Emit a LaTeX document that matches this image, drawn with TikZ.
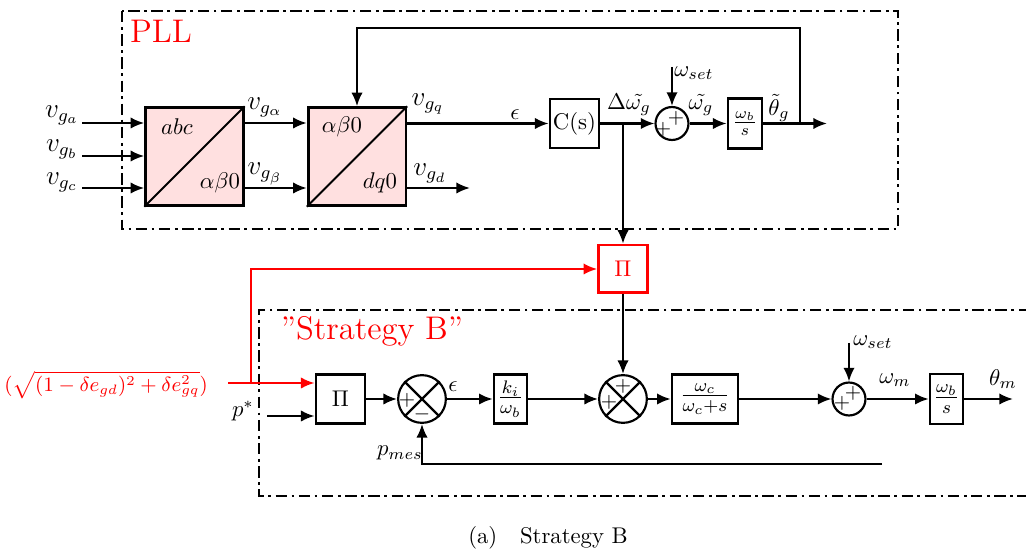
\documentclass[tikz,border=0pt]{standalone}
\usetikzlibrary{arrows.meta}
\definecolor{pinkfill}{RGB}{255,224,224}
\begin{document}
\begin{tikzpicture}[x=0.44pt,y=-0.44pt,
  line width=0.95pt,
  arr/.style={-{Latex[length=6pt,width=5pt]}},
  blk/.style={draw, line width=1.2pt, inner sep=0pt, fill=white},
  conv/.style={draw, line width=1.2pt, fill=pinkfill, minimum width=43pt, minimum height=43pt, inner sep=0pt},
  sumc/.style={draw, circle, line width=0.95pt, inner sep=0pt, minimum size=14.5pt},
  xsum/.style={draw, circle, line width=0.95pt, inner sep=0pt, minimum size=21pt},
  dd/.style={line width=1.1pt, dash pattern=on 5pt off 2pt on 1.2pt off 2pt},
  lbl/.style={inner sep=0pt},
  sgn/.style={inner sep=0pt, font=\small}
]
\useasboundingbox (0,0) rectangle (1026,554);

% frames
\draw[dd] (122,11) rectangle (898,229);
\draw[dd] (1030,310) -- (259,310) -- (259,496) -- (1030,496);
\node[lbl, text=red, font=\Large] (pll) at (161,31) {PLL};
\node[lbl, text=red, font=\Large] (stb) at (372,331) {''Strategy B''};

% ---------- PLL ----------
\node[conv] (t1) at (194.5,156.5) {};
\draw[line width=0.9pt] (t1.south west) -- (t1.north east);
\node[lbl] (t1a) at (177,127) {$abc$};
\node[lbl] (t1b) at (220,183) {$\alpha\beta0$};
\node[conv] (t2) at (357,156.5) {};
\draw[line width=0.9pt] (t2.south west) -- (t2.north east);
\node[lbl] (t2a) at (342,127) {$\alpha\beta0$};
\node[lbl] (t2b) at (380,183) {$dq0$};

\coordinate (ra) at (82,123);
\coordinate (rb) at (82,156);
\coordinate (rc) at (82,188);
\draw[arr] (ra) -- (ra -| t1.west);
\draw[arr] (rb) -- (rb -| t1.west);
\draw[arr] (rc) -- (rc -| t1.west);
\node[lbl, font=\large] (lva) at (62,115) {$v_{g_a}$};
\node[lbl, font=\large] (lvb) at (62,149) {$v_{g_b}$};
\node[lbl, font=\large] (lvc) at (62,182) {$v_{g_c}$};

\draw[arr] (ra -| t1.east) -- (ra -| t2.west);
\draw[arr] (rc -| t1.east) -- (rc -| t2.west);
\node[lbl, font=\large] (lval) at (265,107) {$v_{g_\alpha}$};
\node[lbl, font=\large] (lvbe) at (265,174) {$v_{g_\beta}$};

\node[blk, minimum size=21.6pt] (cs) at (574.5,123.5) {C(s)};
\node[sumc] (s1) at (672,123.5) {};
\node[blk, minimum width=15pt, minimum height=22pt] (ib1) at (745,123.5) {$\frac{\omega_b}{s}$};

\draw[arr] (t2.east |- cs) -- (cs.west);
\node[lbl, font=\large] (lvq) at (428,104) {$v_{g_q}$};
\coordinate (vgd) at (470,188);
\draw[arr] (rc -| t2.east) -- (vgd);
\node[lbl, font=\large] (lvd) at (430,173) {$v_{g_d}$};
\node[lbl] (eps1) at (515,115) {$\epsilon$};

\draw[arr] (cs.east) -- (s1.west);
\node[lbl] (ldw) at (629,105) {$\Delta\tilde{\omega_g}$};
\coordinate (ws1) at (672,67);
\draw[arr] (ws1) -- (s1.north);
\node[lbl] (lws1) at (694,73) {$\omega_{set}$};
\node[sgn] (p1a) at (663,129) {$+$};
\node[sgn] (p1b) at (676,118) {$+$};
\draw[arr] (s1.east) -- (ib1.west);
\node[lbl] (lwg) at (701,105) {$\tilde{\omega_g}$};
\coordinate (o1) at (827,123.5);
\draw[arr] (ib1.east) -- (o1);
\node[lbl] (lth) at (779,108) {$\tilde{\theta}_g$};
\coordinate (fb) at (800,123.5);
\coordinate (fbt) at (800,28);
\draw[arr] (fb) -- (fbt) -| (t2.north);

% ---------- Strategy B ----------
\node[blk, draw=red, text=red, minimum width=21.5pt, minimum height=21pt] (piR) at (623,269) {$\Pi$};
\coordinate (br) at (623,123.5);
\draw[arr] (br) -- (piR.north);

\node[blk, minimum size=21.6pt] (pi2) at (340.5,399) {$\Pi$};
\coordinate (rj) at (251,383);
\coordinate (rs) at (228,383);
\draw[red, arr] (rj) |- (piR.west);
\draw[red, arr] (rs) -- (rs -| pi2.west);
\node[lbl, text=red, font=\small] (form) at (106,385) {$(\sqrt{(1-\delta e_{gd})^2+\delta e_{gq}^2})$};
\coordinate (ps) at (267,416);
\draw[arr] (ps) -- (ps -| pi2.west);
\node[lbl] (lps) at (243,411) {$p^{*}$};

\node[xsum] (x1) at (422,399) {};
\draw (x1.north west) -- (x1.south east) (x1.north east) -- (x1.south west);
\node[sgn] (x1p) at (407,400) {$+$};
\node[sgn] (x1m) at (422,414) {$-$};
\draw[arr] (pi2.east) -- (x1.west);
\node[lbl] (eps2) at (453,387) {$\epsilon$};

\node[blk, minimum width=14.5pt, minimum height=21.6pt] (ki) at (510.5,399) {\large$\frac{k_i}{\omega_b}$};
\draw[arr] (x1.east) -- (ki.west);

\node[xsum] (x2) at (623,399) {};
\draw (x2.north west) -- (x2.south east) (x2.north east) -- (x2.south west);
\node[sgn] (x2a) at (623,386) {$+$};
\node[sgn] (x2b) at (609,402) {$+$};
\draw[arr] (ki.east) -- (x2.west);
\draw[arr] (piR.south) -- (x2.north);

\node[blk, minimum width=29pt, minimum height=21.6pt] (lp) at (705,399) {\large$\frac{\omega_c}{\omega_c+s}$};
\draw[arr] (x2.east) -- (lp.west);

\node[sumc] (s2) at (849,399) {};
\node[sgn] (p2a) at (842,403) {$+$};
\node[sgn] (p2b) at (853,393) {$+$};
\draw[arr] (lp.east) -- (s2.west);
\coordinate (ws2) at (849,343);
\draw[arr] (ws2) -- (s2.north);
\node[lbl] (lws2) at (873,342) {$\omega_{set}$};

\node[blk, minimum width=14.5pt, minimum height=22pt] (ib2) at (946.5,399) {\large$\frac{\omega_b}{s}$};
\draw[arr] (s2.east) -- (ib2.west);
\node[lbl] (lwm) at (895,380) {$\omega_m$};
\coordinate (o2) at (1013,399);
\draw[arr] (ib2.east) -- (o2);
\node[lbl] (lthm) at (1003,379) {$\theta_m$};

\coordinate (fm) at (882,464);
\draw[arr] (fm) -| (x1.south);
\node[lbl] (lpm) at (400,453) {$p_{mes}$};

\node[lbl] (cap) at (548,538) {(a)\quad Strategy B};
\end{tikzpicture}
\end{document}
